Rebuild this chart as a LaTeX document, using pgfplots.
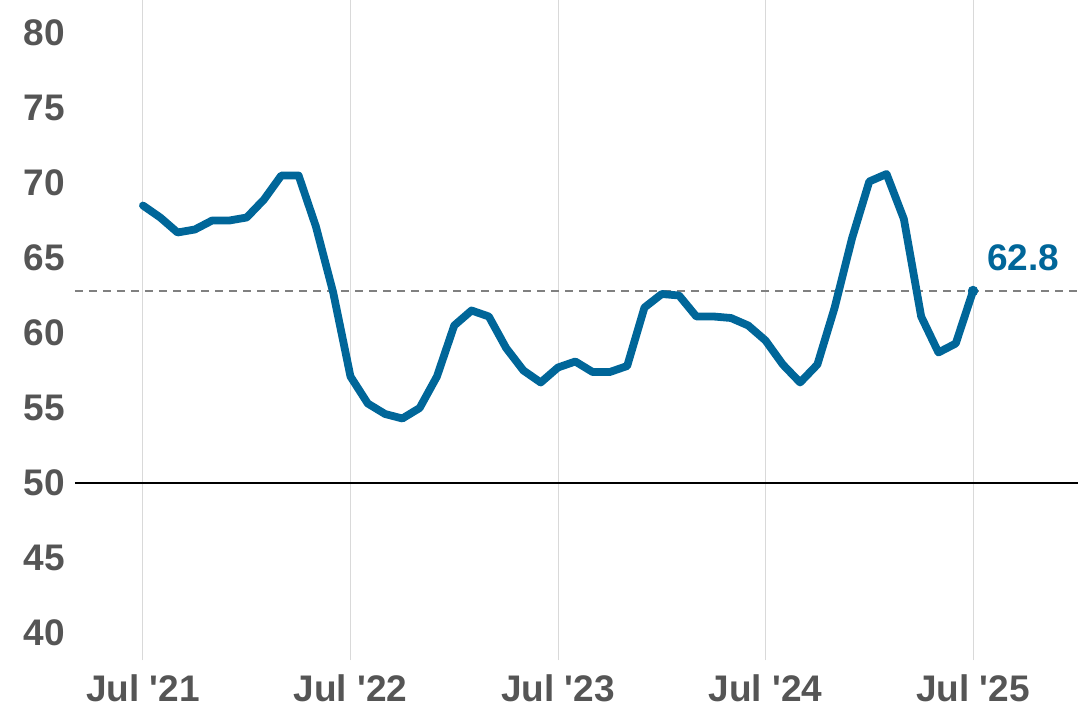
\documentclass[border=0pt]{standalone}
\usepackage{pgfplots}
\pgfplotsset{compat=1.18}
\usepackage{fontspec}
\setmainfont{Liberation Sans}
\definecolor{lineblue}{RGB}{0,102,153}
\definecolor{ticktext}{RGB}{85,85,85}
\begin{document}
\begin{tikzpicture}
\path[use as bounding box] (-37.5pt,-28.5pt) rectangle (502.5pt,330pt);
\begin{axis}[
  anchor=south west, at={(0,0)},
  scale only axis, width=501.5pt, height=330pt,
  xmin=-3.93, xmax=54.07, ymin=38.2, ymax=82.2,
  axis line style={draw=none},
  xtick={0,12,24,36,48},
  xticklabels={Jul \textquotesingle21,Jul \textquotesingle22,Jul \textquotesingle23,Jul \textquotesingle24,Jul \textquotesingle25},
  ytick={40,45,...,80},
  major tick length=0pt,
  xmajorgrids, grid style={gray!30, line width=0.5pt},
  tick label style={font=\fontsize{18.5}{21}\selectfont\bfseries, text=ticktext},
  /pgf/number format/assume math mode=true,
  yticklabel style={xshift=-1.5pt},
  xticklabel style={yshift=-4pt},
  clip=false,
]
\addplot[black, line width=0.9pt, forget plot] coordinates {(-3.93,50) (54.07,50)};
\addplot[gray, line width=0.8pt, dash pattern=on 4pt off 3pt, forget plot] coordinates {(-3.93,62.8) (54.07,62.8)};
\addplot[lineblue, line width=3.9pt, line join=round, line cap=round] coordinates {
(0,68.5) (1,67.7) (2,66.7) (3,66.9) (4,67.5) (5,67.5) (6,67.7) (7,68.9) (8,70.5) (9,70.5)
(10,67.1) (11,62.7) (12,57.1) (13,55.3) (14,54.6) (15,54.3) (16,55.0) (17,57.1) (18,60.5) (19,61.5)
(20,61.1) (21,59.0) (22,57.5) (23,56.7) (24,57.7) (25,58.1) (26,57.4) (27,57.4) (28,57.8) (29,61.7)
(30,62.6) (31,62.5) (32,61.1) (33,61.1) (34,61.0) (35,60.5) (36,59.5) (37,57.9) (38,56.7) (39,57.9)
(40,61.7) (41,66.3) (42,70.1) (43,70.6) (44,67.6) (45,61.1) (46,58.7) (47,59.3) (48,62.8)
};
\addplot[lineblue, only marks, mark=*, mark size=2.4pt] coordinates {(48,62.8)};
\node[anchor=south west, text=lineblue, font=\fontsize{18.5}{21}\selectfont\bfseries, inner sep=0pt] at (axis cs:48.8,64.1) {62.8};
\end{axis}
\end{tikzpicture}
\end{document}
